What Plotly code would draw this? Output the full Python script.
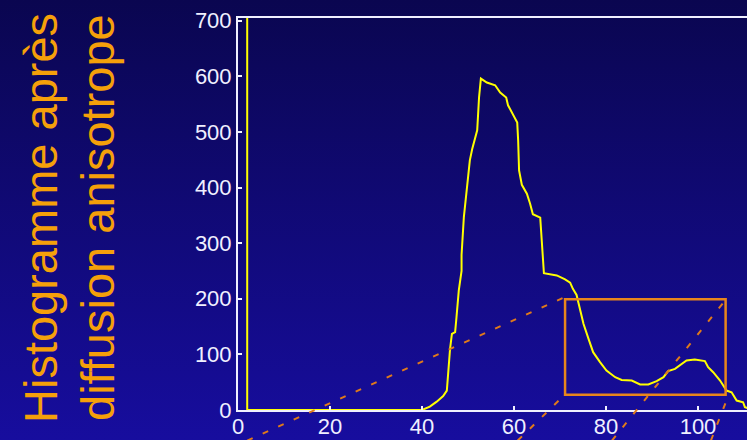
import base64
import plotly.graph_objects as go

# ---------------- data ----------------
hist_x = [2, 2, 40, 41.7, 43.2, 44.6, 45.4, 45.6, 46.1, 46.5, 47.2, 47.5, 48, 48.6, 48.6,
          49.1, 49.9, 50.4, 50.9, 52, 52.4, 52.8, 54.1, 55.9, 57, 58.3, 58.7, 59.8, 60.7,
          60.9, 61.1, 61.7, 62.8, 63.5, 64.1, 65.7, 66.1, 66.5, 69.3, 71.1, 72.2, 72.8,
          73.6, 74.3, 75.1, 76.2, 77.2, 78.7, 80.1, 82, 83.4, 85.6, 87.4, 89.2, 91, 92.5,
          93.5, 95, 96.4, 97.5, 99.3, 101.5, 102.2, 103.3, 104.8, 106.2, 107.3, 108.4,
          109.8, 110.2, 111]
hist_y = [1500, 0, 0, 6, 15, 25, 35, 62, 110, 137, 140, 167, 215, 250, 279,
          347, 404, 449, 469, 503, 562, 596, 589, 584, 571, 562, 548, 530, 517,
          485, 431, 405, 389, 371, 352, 346, 296, 246, 242, 235, 229, 218,
          207, 185, 155, 128, 104, 86, 71, 59, 54, 53, 46, 46, 52, 59,
          70, 74, 83, 89, 91, 88, 77, 68, 53, 35, 32, 17,
          14, 5, 3]

# zoom box (data units)
box_x = [71.1, 106.0]
box_y = [27.3, 199.0]

# dashed guide lines (data units; start below the x axis)
guide_x0 = [2.0, 60.8, 81.3, 102.8]
guide_y0 = [-55, -55, -55, -55]
guide_x1 = [70.8, 71.1, 106.1, 106.7]
guide_y1 = [202, 28, 199, 28]

x_ticks = [0, 20, 40, 60, 80, 100]
y_ticks = [0, 100, 200, 300, 400, 500, 600, 700]
x_range = [0, 110.65]
y_range = [0, 705]

title_lines = ["Histogramme après", "diffusion anisotrope"]

# ---------------- styling ----------------
W, H = 747, 440
ML, MR, MT, MB = 238, 0, 18, 30
PW, PH = W - ML - MR, H - MT - MB
ORANGE = "#f5a00a"
BOX = "#e8861c"
DASH = "#e07a1a"
WHITE = "#f0f0ff"


def y_to_paper(v):
    return (v - y_range[0]) / (y_range[1] - y_range[0])


fig = go.Figure()
fig.add_trace(go.Scatter(x=hist_x, y=hist_y, mode="lines",
                         line=dict(color="#ffff00", width=2), hoverinfo="skip",
                         showlegend=False))

shapes = [dict(type="rect", xref="x", yref="y", x0=box_x[0], x1=box_x[1],
               y0=box_y[0], y1=box_y[1], line=dict(color=BOX, width=2.5),
               fillcolor="rgba(0,0,0,0)", layer="above")]
for a, b, c, d in zip(guide_x0, guide_y0, guide_x1, guide_y1):
    shapes.append(dict(type="line", xref="x", yref="paper", x0=a, x1=c,
                       y0=y_to_paper(b), y1=y_to_paper(d),
                       line=dict(color=DASH, width=2, dash="6px,11px"), layer="above"))

svg = ('<svg xmlns="http://www.w3.org/2000/svg" width="%d" height="%d" preserveAspectRatio="none">'
       '<defs><linearGradient id="g" x1="0" y1="0" x2="0" y2="1">'
       '<stop offset="0" stop-color="#0a0650"/><stop offset="1" stop-color="#170d9e"/>'
       '</linearGradient></defs><rect width="%d" height="%d" fill="url(#g)"/></svg>') % (W, H, W, H)
src = "data:image/svg+xml;base64," + base64.b64encode(svg.encode()).decode()

annotations = []
title_px = [40, 97]
for line, px in zip(title_lines, title_px):
    annotations.append(dict(text=line, textangle=-90, showarrow=False,
                            xref="paper", yref="paper",
                            x=(px - ML) / PW, y=(MT + PH - 218) / PH,
                            xanchor="center", yanchor="middle",
                            font=dict(family="Liberation Sans, Arial, sans-serif",
                                      size=47, color=ORANGE)))

axis_common = dict(showgrid=False, zeroline=False, showline=True, linecolor=WHITE,
                   linewidth=2, ticks="inside", ticklen=4, tickwidth=1.5, tickcolor=WHITE,
                   tickfont=dict(family="Liberation Sans, Arial, sans-serif", size=22,
                                 color=WHITE), automargin=False, fixedrange=True)

fig.update_layout(
    template="none",
    width=W, height=H,
    margin=dict(l=ML, r=MR, t=MT, b=MB, pad=0),
    paper_bgcolor="rgba(0,0,0,0)", plot_bgcolor="rgba(0,0,0,0)",
    xaxis=dict(range=x_range, tickvals=x_ticks, mirror=True, ticklabelstandoff=-4,
               **axis_common),
    yaxis=dict(range=y_range, tickvals=y_ticks, mirror=False, **axis_common),
    shapes=shapes,
    annotations=annotations,
    images=[dict(source=src, xref="paper", yref="paper", x=-ML / PW, y=1 + MT / PH,
                 sizex=W / PW, sizey=H / PH, sizing="stretch", xanchor="left",
                 yanchor="top", layer="below")],
    showlegend=False,
)

fig.write_html("out.html", config={"displayModeBar": False})
